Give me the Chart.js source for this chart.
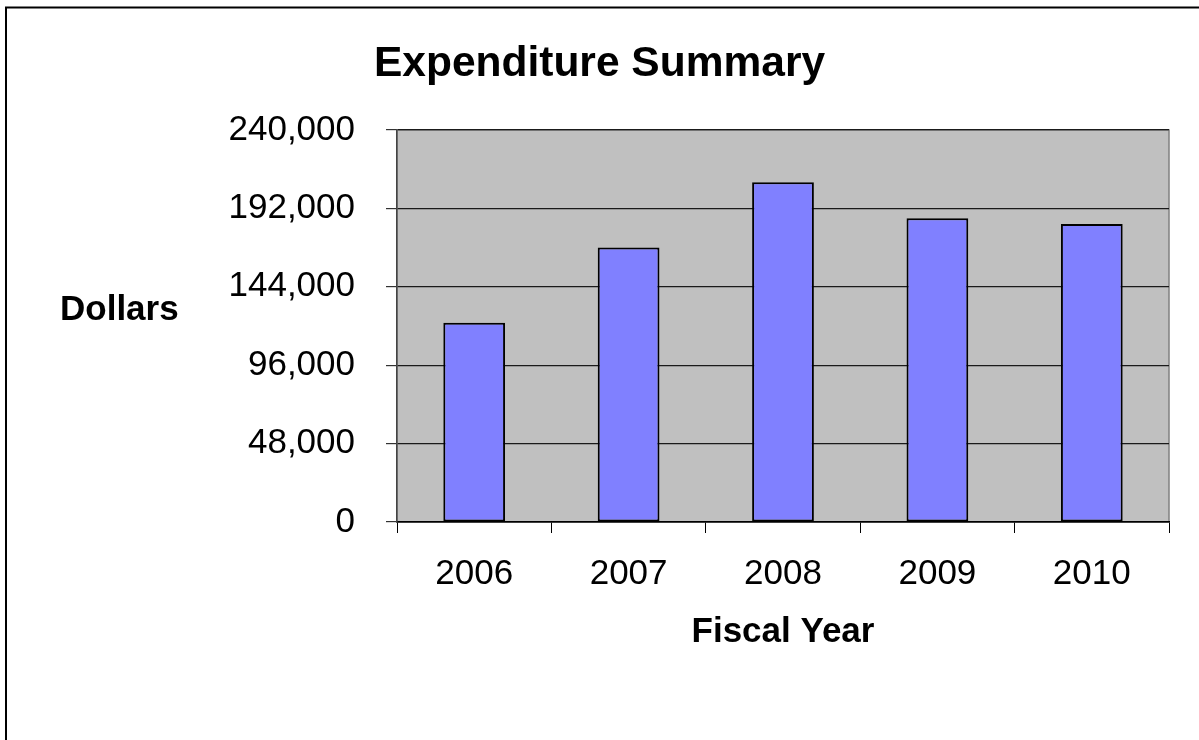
<!DOCTYPE html>
<html>
<head>
<meta charset="utf-8">
<title>Expenditure Summary</title>
<script src="https://cdn.jsdelivr.net/npm/chart.js@4/dist/chart.umd.min.js"></script>
<style>
  html, body { margin: 0; padding: 0; background: #fff; }
  #wrap { width: 1199px; height: 740px; }
</style>
</head>
<body>
<div id="wrap"><canvas id="expChart" width="1199" height="740"></canvas></div>
<script>
// Expenditure Summary — bar chart by fiscal year

const years = ['2006', '2007', '2008', '2009', '2010'];
const dollars = [122000, 168000, 208000, 186000, 182500];
const yTicks = [0, 48000, 96000, 144000, 192000, 240000];

const fontFam = '"Liberation Sans", Arial, sans-serif';

// plot background, frame, outer border and the horizontal "Dollars" label
const decor = {
  id: 'decor',
  beforeDraw(chart) {
    const { ctx, chartArea: a } = chart;
    ctx.save();
    ctx.fillStyle = '#c0c0c0';
    ctx.fillRect(a.left, a.top, a.right - a.left, a.bottom - a.top);
    ctx.strokeStyle = '#808080';
    ctx.lineWidth = 1.5;
    ctx.strokeRect(a.left, a.top, a.right - a.left, a.bottom - a.top);
    // outer frame (top + left visible)
    ctx.strokeStyle = '#000';
    ctx.lineWidth = 2;
    ctx.beginPath();
    ctx.moveTo(6, 760);
    ctx.lineTo(6, 7.5);
    ctx.lineTo(1220, 7.5);
    ctx.stroke();
    ctx.restore();
  },
  afterDraw(chart) {
    const { ctx, chartArea: a } = chart;
    ctx.save();
    ctx.font = 'bold 35px ' + fontFam;
    ctx.fillStyle = '#000';
    ctx.textAlign = 'left';
    ctx.textBaseline = 'middle';
    ctx.fillText('Dollars', 60, (a.top + a.bottom) / 2 - 16);
    ctx.restore();
  }
};

new Chart(document.getElementById('expChart').getContext('2d'), {
  type: 'bar',
  data: {
    labels: years,
    datasets: [{
      label: 'Dollars',
      data: dollars,
      backgroundColor: '#8080ff',
      borderColor: '#000',
      borderWidth: 2,
      borderSkipped: false,
      barPercentage: 0.4,
      categoryPercentage: 1.0
    }]
  },
  options: {
    responsive: false,
    animation: false,
    layout: { padding: { left: 30, right: 30, top: 0, bottom: 0 } },
    plugins: {
      legend: { display: false },
      tooltip: { enabled: false },
      title: {
        display: true,
        text: 'Expenditure Summary',
        color: '#000',
        font: { family: fontFam, size: 42.5, weight: 'bold' },
        padding: { top: 39, bottom: 40 }
      }
    },
    scales: {
      x: {
        afterFit: s => { s.height = 218; },
        grid: {
          offset: true,
          drawOnChartArea: false,
          drawTicks: true,
          tickLength: 11,
          color: '#000'
        },
        border: { color: '#000', width: 1.5 },
        ticks: {
          color: '#000',
          padding: 20,
          font: { family: fontFam, size: 35 }
        },
        title: {
          display: true,
          text: 'Fiscal Year',
          color: '#000',
          font: { family: fontFam, size: 35, weight: 'bold' },
          padding: { bottom: 87 }
        }
      },
      y: {
        min: 0,
        max: 240000,
        afterFit: s => { s.width = 367; },
        afterBuildTicks: s => { s.ticks = yTicks.map(v => ({ value: v })); },
        grid: {
          color: '#1a1a1a',
          lineWidth: 1.2,
          tickLength: 11,
          tickColor: '#333'
        },
        border: { color: '#444', width: 1.5 },
        ticks: {
          color: '#000',
          padding: 31,
          font: { family: fontFam, size: 35 },
          callback: v => v.toLocaleString('en-US')
        }
      }
    }
  },
  plugins: [decor]
});
</script>
</body>
</html>
